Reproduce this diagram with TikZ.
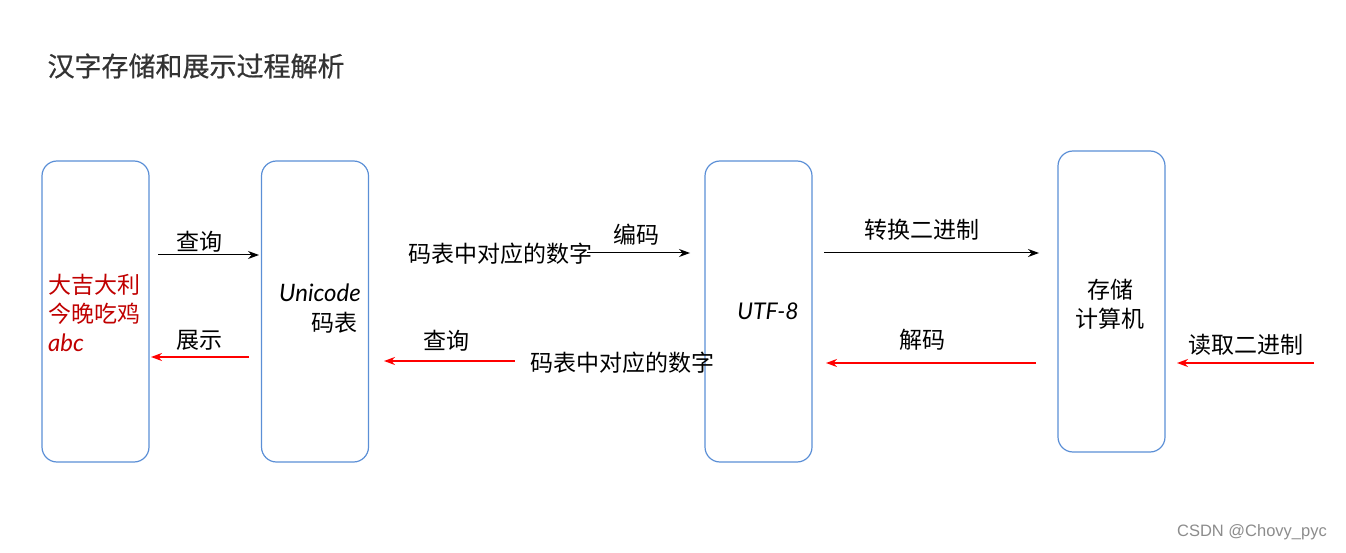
\documentclass[tikz,border=0pt]{standalone}
\usepackage{fontspec}
\usepackage{tikz}
\usetikzlibrary{arrows.meta,calc}
\newfontfamily\cjk{Noto Sans CJK SC}
\newfontfamily\cjktitle{Noto Sans CJK SC}[FakeBold=0.6]
\newfontfamily\hand{Lato}
\newfontfamily\marksans{Liberation Sans}
\definecolor{boxblue}{HTML}{5B8FD6}
\definecolor{darkred}{HTML}{C00000}
\tikzset{
  cell/.style={draw=boxblue, line width=1.2pt, rounded corners=15pt, minimum width=107pt, minimum height=301pt},
  lbl/.style={font=\cjk\fontsize{23}{28}\selectfont, inner sep=0pt},
  fwd/.style={-{Stealth[length=11pt,width=8pt]}, line width=1pt, black},
  back/.style={-{Stealth[length=11pt,width=8pt]}, line width=2pt, red},
}
\begin{document}
\begin{tikzpicture}[x=1pt,y=-1pt]
  \useasboundingbox (0,0) rectangle (1346,553);
  \node[font=\cjktitle\fontsize{27}{32}\selectfont, anchor=west, text=black!80] (title) at (44,66) {汉字存储和展示过程解析};

  \node[cell] (text)    at (95.5,311.5)  {};
  \node[cell] (uni)     at (315,311.5)   {};
  \node[cell] (utf)     at (758.5,311.5) {};
  \node[cell] (store)   at (1111.5,301.5) {};

  % box contents
  \node[lbl, text=darkred, anchor=west] (t1) at (48,285) {大吉大利};
  \node[lbl, text=darkred, anchor=west] (t2) at (48,314) {今晚吃鸡};
  \node[font=\hand\itshape\fontsize{24}{28}\selectfont, text=darkred, anchor=west, inner sep=0pt] (t3) at (48,343) {abc};
  \node[font=\hand\itshape\fontsize{24}{28}\selectfont, inner sep=0pt] (u1) at (320,293) {Unicode};
  \node[lbl] (u2) at (334,323) {码表};
  \node[font=\hand\itshape\fontsize{23}{28}\selectfont, inner sep=0pt] (f1) at (768,311) {UTF-8};
  \node[lbl] (s1) at (1110,290) {存储};
  \node[lbl] (s2) at (1110,319) {计算机};

  % forward path
  \coordinate (a1) at (158,255);
  \coordinate (a2) at (259,255);
  \draw[fwd] (a1) -- (a2);
  \node[lbl] (q1) at (199,242) {查询};
  \node[lbl] (num1) at (500,254) {码表中对应的数字};
  \coordinate (a3) at (690,253);
  \draw[fwd] (num1.east) ++(-5,-1) coordinate (a4) -- (a3);
  \node[lbl] (enc) at (636,235) {编码};
  \coordinate (a5) at (824,253);
  \coordinate (a6) at (1039,253);
  \draw[fwd] (a5) -- (a6);
  \node[lbl] (bin) at (922,230) {转换二进制};

  % backward path
  \coordinate (b1) at (1314,363);
  \coordinate (b2) at (1177,363);
  \draw[back] (b1) -- (b2);
  \node[lbl] (read) at (1246,345) {读取二进制};
  \coordinate (b3) at (1036,363);
  \coordinate (b4) at (826,363);
  \draw[back] (b3) -- (b4);
  \node[lbl] (dec) at (922,340) {解码};
  \node[lbl] (num2) at (622,363) {码表中对应的数字};
  \coordinate (b5) at (384,361);
  \draw[back] (num2.west) ++(-15,-2) coordinate (b6) -- (b5);
  \node[lbl] (q2) at (446,341) {查询};
  \coordinate (b7) at (249,357);
  \coordinate (b8) at (151,357);
  \draw[back] (b7) -- (b8);
  \node[lbl] (show) at (199,340) {展示};

  \node[font=\marksans\fontsize{16.5}{20}\selectfont, text=black!45] (mark) at (1252,532) {CSDN @Chovy\_pyc};
\end{tikzpicture}
\end{document}
